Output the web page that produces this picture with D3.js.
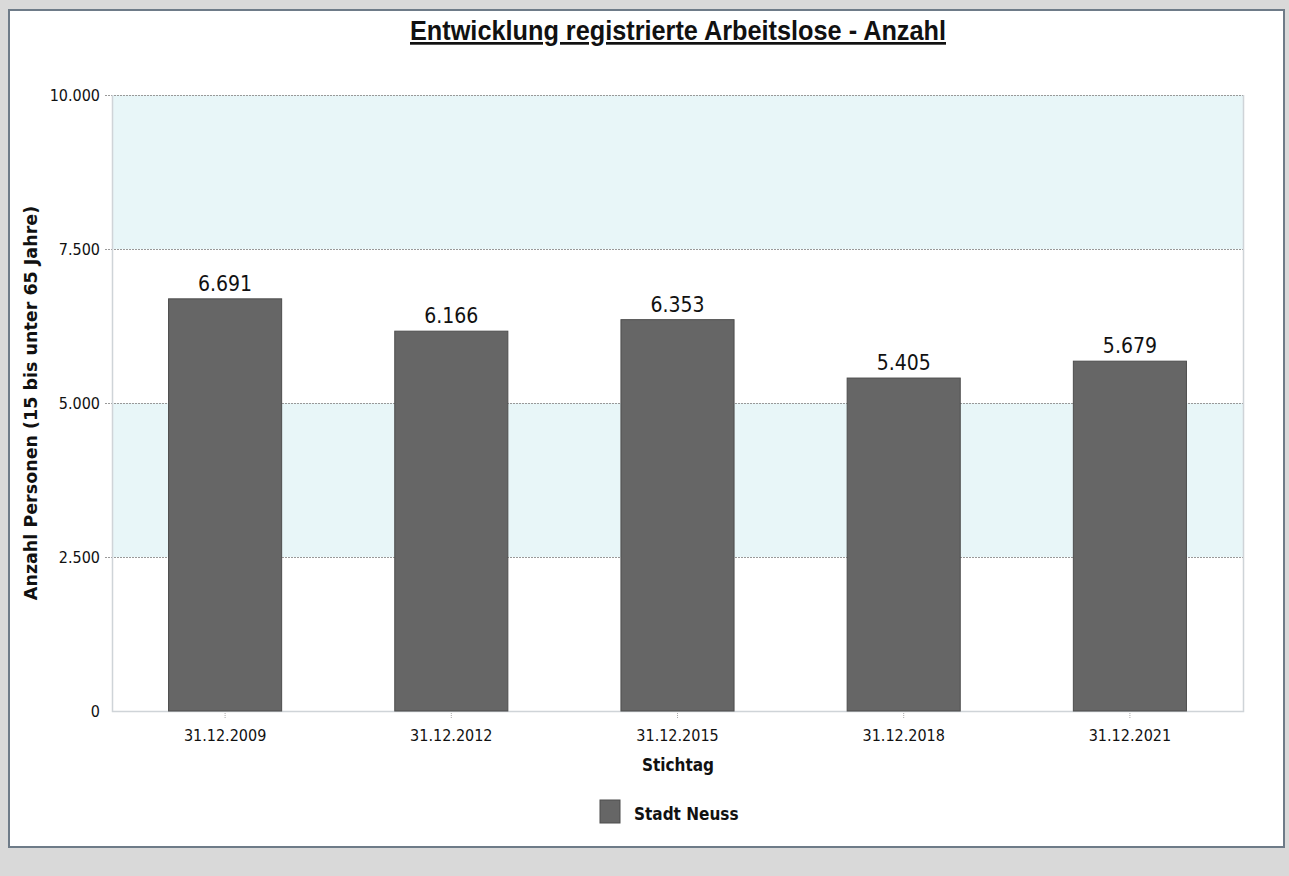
<!DOCTYPE html>
<html><head><meta charset="utf-8">
<script src="https://cdn.jsdelivr.net/npm/d3@7"></script>
<style>
html,body{margin:0;padding:0;background:#d9d9d9;}
svg{display:block;}
</style></head>
<body>
<svg id="chart" width="1289" height="876"></svg>
<script>
const categories = ["31.12.2009","31.12.2012","31.12.2015","31.12.2018","31.12.2021"];
const values = [6691, 6166, 6353, 5405, 5679];
const yTicks = [0, 2500, 5000, 7500, 10000];
const bands = [[2500,5000],[7500,10000]];
const seriesName = "Stadt Neuss";
const title = "Entwicklung registrierte Arbeitslose - Anzahl";
const yTitle = "Anzahl Personen (15 bis unter 65 Jahre)";
const xTitle = "Stichtag";

const svg = d3.select("#chart");
const tickFont = "'DejaVu Sans Condensed','DejaVu Sans',sans-serif";
const boldFont = "'DejaVu Sans','Verdana',sans-serif";

// panel
svg.append("rect").attr("x",9).attr("y",10).attr("width",1275).attr("height",837)
  .attr("fill","#fff").attr("stroke","#6e7b88").attr("stroke-width",2);

const m = {left:112, right:1243, top:95, bottom:711};
const x = d3.scaleBand().domain(categories).range([m.left, m.right]).paddingInner(0.5).paddingOuter(0.25);
const y = d3.scaleLinear().domain([0,10000]).range([m.bottom, m.top]);

// bands
svg.selectAll("rect.band").data(bands).join("rect").attr("class","band")
  .attr("x",m.left).attr("width",m.right-m.left)
  .attr("y",d=>y(d[1])).attr("height",d=>y(d[0])-y(d[1]))
  .attr("fill","#e8f6f8");

// grid lines
svg.selectAll("line.grid").data(yTicks.filter(t=>t>0)).join("line").attr("class","grid")
  .attr("x1",105).attr("x2",m.right).attr("y1",d=>y(d)+0.5).attr("y2",d=>y(d)+0.5)
  .attr("stroke","#999").attr("stroke-width",1).attr("stroke-dasharray","2,1");

// plot border (left, right, bottom)
svg.append("path").attr("d",`M${m.left+0.5},${m.top}V${m.bottom+0.5}H${m.right+0.5}V${m.top}`)
  .attr("fill","none").attr("stroke","#cfd4d8").attr("stroke-width",1.5);

// y axis
const yAxis = d3.axisLeft(y).tickValues(yTicks).tickSize(0).tickPadding(12)
  .tickFormat(d=>d3.format(",")(d).replace(/,/g,"."));
const ya = svg.append("g").attr("transform",`translate(${m.left},0)`).call(yAxis);
ya.select(".domain").remove();
ya.selectAll("text").attr("font-family",tickFont).attr("font-size",16).attr("fill","#111");

// x axis
const xAxis = d3.axisBottom(x).tickSize(6).tickPadding(11);
const xa = svg.append("g").attr("transform",`translate(0,${m.bottom+2})`).call(xAxis);
xa.select(".domain").remove();
xa.selectAll("line").attr("stroke","#aaa").attr("stroke-dasharray","1,1");
xa.selectAll("text").attr("font-family",tickFont).attr("font-size",16).attr("fill","#111");

// bars
svg.selectAll("rect.bar").data(values).join("rect").attr("class","bar")
  .attr("x",(d,i)=>x(categories[i])).attr("width",x.bandwidth())
  .attr("y",d=>y(d)).attr("height",d=>y(0)-y(d))
  .attr("fill","#666666").attr("stroke","#4d4d4d").attr("stroke-width",1);

// value labels
svg.selectAll("text.val").data(values).join("text").attr("class","val")
  .attr("x",(d,i)=>x(categories[i])+x.bandwidth()/2).attr("y",d=>y(d)-8)
  .attr("text-anchor","middle").attr("font-family",tickFont).attr("font-size",21).attr("fill","#111")
  .text(d=>d3.format(",")(d).replace(/,/g,"."));

// title
svg.append("text").attr("x",410).attr("y",40)
  .attr("font-family","'Liberation Sans Narrow','Arial Narrow','Liberation Sans',sans-serif")
  .attr("font-weight","bold").attr("font-size",27).attr("fill","#111")
  .attr("textLength",536).attr("lengthAdjust","spacingAndGlyphs")
  .attr("text-decoration","underline").text(title);

// y title
svg.append("text").attr("transform",`translate(37,403) rotate(-90)`).attr("text-anchor","middle")
  .attr("font-family",boldFont).attr("font-weight","bold").attr("font-size",17.5).attr("fill","#111")
  .text(yTitle);

// x title
svg.append("text").attr("x",678).attr("y",771).attr("text-anchor","middle")
  .attr("font-family",tickFont).attr("font-weight","bold").attr("font-size",17).attr("fill","#111")
  .text(xTitle);

// legend
svg.append("rect").attr("x",600).attr("y",800).attr("width",20).attr("height",23)
  .attr("fill","#666").attr("stroke","#4d4d4d");
svg.append("text").attr("x",634).attr("y",820)
  .attr("font-family",tickFont).attr("font-weight","bold").attr("font-size",17).attr("fill","#111")
  .text(seriesName);
</script>
</body></html>
